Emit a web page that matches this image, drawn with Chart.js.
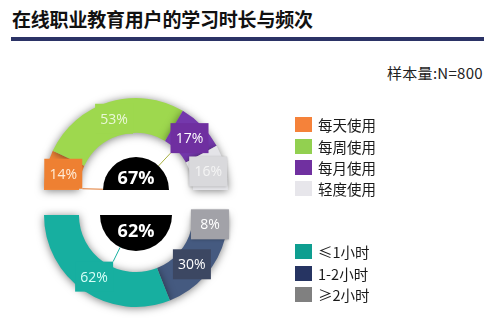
<!DOCTYPE html>
<html>
<head>
<meta charset="utf-8">
<script src="https://cdn.jsdelivr.net/npm/chart.js@4.4.1/dist/chart.umd.min.js"></script>
<style>
  body { margin: 0; width: 493px; height: 320px; overflow: hidden; background: #fff; position: relative;
         font-family: "Noto Sans CJK SC", sans-serif; }
  .title { position: absolute; left: 12px; top: 5px; font-size: 19px; font-weight: bold; color: #111; letter-spacing: -0.2px; }
  .bar { position: absolute; left: 11px; top: 37px; width: 473px; height: 4px; background: #2b3366; }
  .sample { position: absolute; right: 10px; top: 62px; font-size: 15px; color: #222; letter-spacing: 0.3px; }
  canvas { position: absolute; left: 0; top: 0; }
  .legend { position: absolute; left: 295px; }
  .legend div { height: 21.4px; display: flex; align-items: center; font-size: 14.5px; color: #1a1a1a; }
  .legend span { display: inline-block; width: 17px; height: 15px; margin-right: 6px; }
</style>
</head>
<body>
<div class="title">在线职业教育用户的学习时长与频次</div>
<div class="bar"></div>
<div class="sample">样本量:N=800</div>
<canvas id="freqChart" width="493" height="320"></canvas>
<canvas id="timeChart" width="493" height="320"></canvas>
<div class="legend" id="freqLegend" style="top:114px"></div>
<div class="legend" id="timeLegend" style="top:241px"></div>

<script>
// 使用频次
const freqLabels = ['每天使用', '每周使用', '每月使用', '轻度使用'];
const freqValues = [14, 53, 17, 16];
const freqTotal = '67%';
// 单次学习时长
const timeLabels = ['≤1小时', '1-2小时', '≥2小时'];
const timeValues = [62, 30, 8];
const timeTotal = '62%';

const freqColors = ['#f08537', '#9ed84e', '#7438ac', '#e4e4e8'];
const freqBoxColors = ['#ee8032', '#9ed84e', '#6f2fa0', '#d9d9dc'];
const freqBoxShadow = [false, false, false, true];
const freqTextColors = ['#ffecd8', '#eaf8d8', '#ffffff', '#f4f4f4'];
const freqLegendColors = ['#f5823a', '#92d050', '#7030a0', '#e7e6eb'];

const timeColors = ['#17afa0', '#455a80', '#9a9ca6'];
const timeBoxColors = ['#17afa0', '#3c4762', '#a2a2a8'];
const timeBoxShadow = [false, false, true];
const timeTextColors = ['#d8fff8', '#ffffff', '#ffffff'];
const timeLegendColors = ['#0e9e90', '#263462', '#808080'];

function legend(id, labels, colors) {
  const el = document.getElementById(id);
  labels.forEach((l, i) => {
    el.innerHTML += `<div><span style="background:${colors[i]}"></span>${l}</div>`;
  });
}
legend('freqLegend', freqLabels, freqLegendColors);
legend('timeLegend', timeLabels, timeLegendColors);

// shadow under the rings
const shadow = {
  id: 'shadow',
  beforeDatasetsDraw(chart) {
    const ctx = chart.ctx;
    ctx.save();
    ctx.shadowColor = 'rgba(0,0,0,0.5)';
    ctx.shadowBlur = 9;
    ctx.shadowOffsetY = 1;
  },
  afterDatasetsDraw(chart) {
    chart.ctx.restore();
  }
};

// hub, leader lines and value boxes
const decor = {
  id: 'decor',
  afterDatasetsDraw(chart, args, opts) {
    const ctx = chart.ctx;
    const arcs = chart.getDatasetMeta(0).data;
    const cx = arcs[0].x, cy = arcs[0].y;
    const up = opts.up;
    const bw = 38, bh = 30;

    // leader lines from boxes to hub
    opts.links.forEach((k) => {
      const p = arcs[k].tooltipPosition();
      const sx = p.x < cx ? p.x + bw / 2 : p.x - bw / 2;
      const sy = up ? p.y + bh / 2 : p.y - bh / 2;
      const dx = sx - cx, dy = sy - cy;
      const d = Math.sqrt(dx * dx + dy * dy);
      ctx.save();
      ctx.strokeStyle = opts.linkColors[k];
      ctx.lineWidth = 1;
      ctx.beginPath();
      ctx.moveTo(sx, sy);
      ctx.lineTo(cx + dx / d * opts.hubR, cy + dy / d * opts.hubR);
      ctx.stroke();
      ctx.restore();
    });

    // black hub
    ctx.save();
    ctx.fillStyle = '#000';
    ctx.beginPath();
    if (up) ctx.arc(cx, cy, opts.hubR, Math.PI, 2 * Math.PI);
    else ctx.arc(cx, cy, opts.hubR, 0, Math.PI);
    ctx.closePath();
    ctx.fill();
    ctx.fillStyle = '#fff';
    ctx.font = 'bold 18px "Open Sans", sans-serif';
    ctx.textAlign = 'center';
    ctx.textBaseline = 'middle';
    ctx.fillText(opts.text, cx, up ? cy - 11 : cy + 17);
    ctx.restore();

    // value boxes
    const values = chart.data.datasets[0].data;
    arcs.forEach((a, i) => {
      const p = a.tooltipPosition();
      ctx.save();
      if (opts.boxShadow[i]) {
        ctx.shadowColor = 'rgba(0,0,0,0.3)';
        ctx.shadowBlur = 3;
        ctx.shadowOffsetY = 1;
      }
      ctx.fillStyle = opts.boxColors[i];
      ctx.fillRect(p.x - bw / 2, p.y - bh / 2, bw, bh);
      ctx.restore();
      ctx.save();
      ctx.fillStyle = opts.textColors[i];
      ctx.font = '14px "Open Sans", sans-serif';
      ctx.textAlign = 'center';
      ctx.textBaseline = 'middle';
      ctx.fillText(values[i] + '%', p.x, p.y + 1);
      ctx.restore();
    });
  }
};

function ring(id, values, colors, rotation, padding, decorOpts) {
  new Chart(document.getElementById(id), {
    type: 'doughnut',
    data: {
      labels: values.map((v) => v + '%'),
      datasets: [{ data: values, backgroundColor: colors, borderWidth: 0, clip: false }]
    },
    options: {
      responsive: false,
      animation: false,
      rotation: rotation,
      circumference: 180,
      cutout: '62%',
      layout: { padding: padding },
      plugins: { legend: { display: false }, tooltip: { enabled: false }, decor: decorOpts }
    },
    plugins: [shadow, decor]
  });
}

ring('freqChart', freqValues, freqColors, -90,
  { left: 44, right: 265, top: 98, bottom: 130 },
  { up: true, hubR: 33, text: freqTotal, links: [0, 2],
    linkColors: ['#e07830', '', '#a8b040', ''],
    boxColors: freqBoxColors, boxShadow: freqBoxShadow, textColors: freqTextColors });

// bottom ring runs from the right end to the left end, so reverse the order
ring('timeChart', timeValues.slice().reverse(), timeColors.slice().reverse(), 90,
  { left: 44, right: 265, top: 215, bottom: 13 },
  { up: false, hubR: 36, text: timeTotal, links: [2],
    linkColors: ['', '', '#18b0a0'],
    boxColors: timeBoxColors.slice().reverse(), boxShadow: timeBoxShadow.slice().reverse(),
    textColors: timeTextColors.slice().reverse() });
</script>
</body>
</html>
